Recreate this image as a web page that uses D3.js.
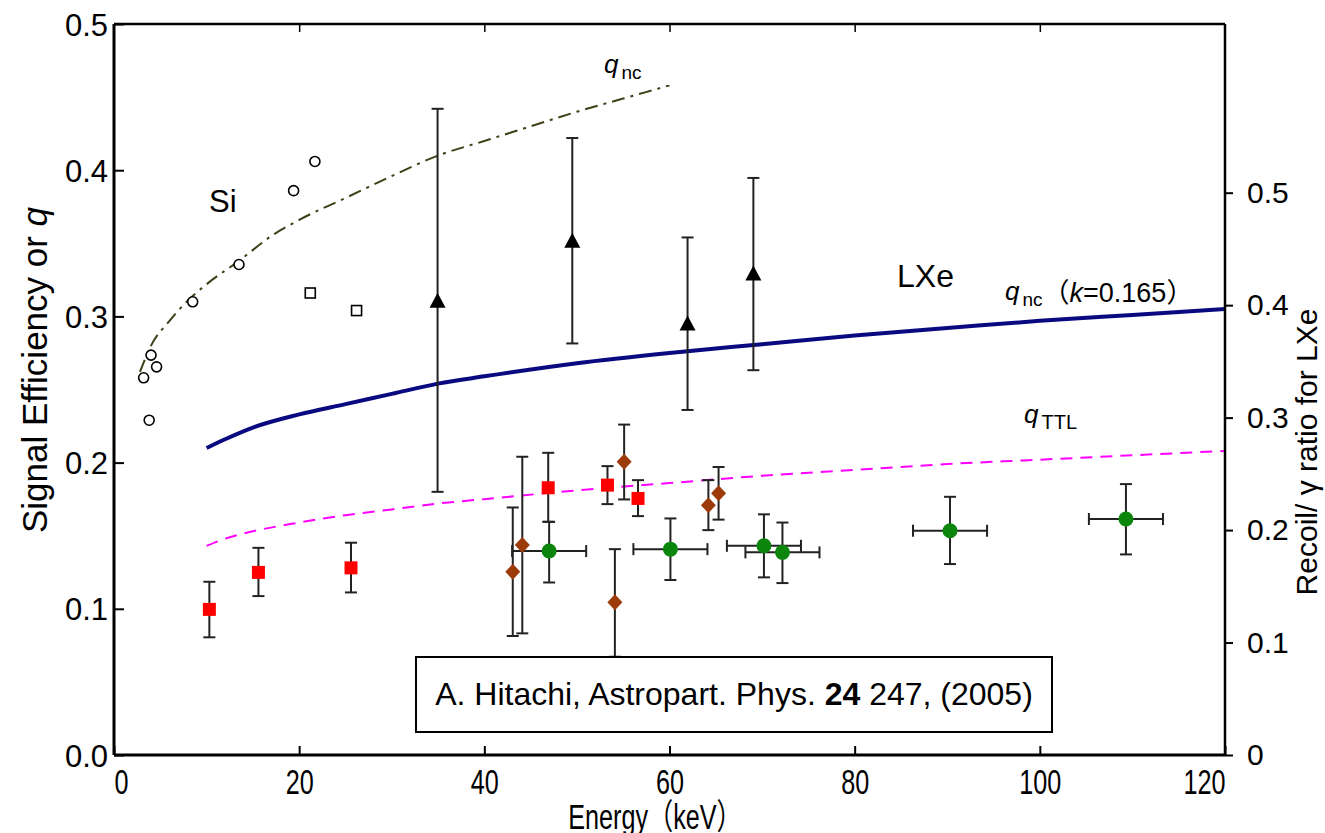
<!DOCTYPE html>
<html><head><meta charset="utf-8">
<script src="https://cdn.jsdelivr.net/npm/d3@7"></script>
<style>
body{margin:0;background:#fff;}
svg{display:block;font-family:"Liberation Sans",Arial,sans-serif;}
</style></head>
<body><svg id="c" width="1325" height="833"></svg>
<script>
// ---------- data ----------
const xTicks = [0,20,40,60,80,100,120];
const yTicks = [0,0.1,0.2,0.3,0.4,0.5];
const y2Ticks = [0,0.1,0.2,0.3,0.4,0.5];

// Si: open circles & squares
const siCircE = [3.2, 4.0, 4.6, 3.8, 8.5, 13.5, 19.4, 21.7];
const siCircQ = [0.258, 0.2735, 0.2655, 0.229, 0.310, 0.3355, 0.386, 0.406];
const siSqE = [21.2, 26.2];
const siSqQ = [0.316, 0.304];

// Si q_nc curve (dash-dot)
const siQncE = [2.8, 4, 6, 8, 10, 13.5, 17, 20, 25, 29, 35, 40, 45, 50, 55, 60];
const siQncQ = [0.262, 0.280, 0.297, 0.311, 0.322, 0.338, 0.355, 0.366, 0.381, 0.393, 0.410, 0.420, 0.430, 0.440, 0.449, 0.458];

// LXe q_nc (k=0.165) and q_TTL curves
const curveE = [10, 12, 15, 20, 25, 30, 35, 40, 50, 60, 70, 80, 90, 100, 110, 120];
const lxeQ = [0.210, 0.216, 0.224, 0.233, 0.240, 0.247, 0.254, 0.259, 0.268, 0.275, 0.281, 0.287, 0.292, 0.297, 0.301, 0.305];
const ttlQ = [0.143, 0.148, 0.153, 0.159, 0.164, 0.168, 0.172, 0.175, 0.181, 0.186, 0.191, 0.195, 0.199, 0.202, 0.205, 0.208];

// black triangles
const triE  = [34.95, 49.5, 61.95, 69.06];
const triQ  = [0.310, 0.351, 0.2945, 0.3287];
const triHi = [0.442, 0.422, 0.354, 0.3947];
const triLo = [0.180, 0.2815, 0.236, 0.2632];

// red squares
const sqE  = [10.3, 15.6, 25.6, 46.9, 53.3, 56.6];
const sqQ  = [0.0996, 0.1249, 0.128, 0.1828, 0.1846, 0.1755];
const sqHi = [0.1185, 0.1417, 0.1452, 0.2067, 0.1976, 0.188];
const sqLo = [0.0805, 0.1087, 0.1112, 0.1595, 0.1716, 0.1634];

// brown diamonds
const dmE  = [43.07, 44.1, 54.1, 55.1, 64.2, 65.3];
const dmQ  = [0.1253, 0.1436, 0.1044, 0.2006, 0.1709, 0.179];
const dmHi = [0.1693, 0.204, 0.1408, 0.226, 0.188, 0.197];
const dmLo = [0.0814, 0.0832, 0.0672, 0.1748, 0.1538, 0.161];

// green circles
const gE   = [47.0, 60.1, 70.2, 72.2, 90.3, 109.3];
const gQ   = [0.1395, 0.1408, 0.1431, 0.1386, 0.1534, 0.1614];
const gHi  = [0.1595, 0.1618, 0.1646, 0.159, 0.1766, 0.1853];
const gLo  = [0.118, 0.1197, 0.1215, 0.1176, 0.1306, 0.1372];
const gXerr = [4, 4, 4, 4, 4, 4];

// ---------- setup ----------
const svg = d3.select("#c");
const X0 = 114, X1 = 1225, Y0 = 755, Y1 = 24;
const x = d3.scaleLinear().domain([0,120]).range([X0,X1]);
const y = d3.scaleLinear().domain([0,0.5]).range([Y0,Y1]);
const y2 = d3.scaleLinear().domain([0,0.65]).range([Y0,Y1]);

const errCol = "#222";
const fontMain = '"Liberation Sans",Arial,sans-serif';
const fontCJK = '"Liberation Sans","Noto Sans CJK JP",sans-serif';

// curves
const line = d3.line().x(d=>x(d[0])).y(d=>y(d[1])).curve(d3.curveMonotoneX);
svg.append("path").datum(siQncE.map((e,i)=>[e,siQncQ[i]]))
  .attr("d",line).attr("fill","none").attr("stroke","#3f3f18").attr("stroke-width",2)
  .attr("stroke-dasharray","13,6,3,6");
svg.append("path").datum(curveE.map((e,i)=>[e,lxeQ[i]]))
  .attr("d",line).attr("fill","none").attr("stroke","#0a0a80").attr("stroke-width",4);
svg.append("path").datum(curveE.map((e,i)=>[e,ttlQ[i]]))
  .attr("d",line).attr("fill","none").attr("stroke","#ff00ff").attr("stroke-width",2)
  .attr("stroke-dasharray","12,8");

// vertical error bars helper
function vErr(E, hi, lo, cap){
  const g = svg.append("g").attr("stroke",errCol).attr("stroke-width",2);
  E.forEach((e,i)=>{
    g.append("line").attr("x1",x(e)).attr("x2",x(e)).attr("y1",y(hi[i])).attr("y2",y(lo[i]));
    [hi[i],lo[i]].forEach(v=>g.append("line").attr("x1",x(e)-cap).attr("x2",x(e)+cap).attr("y1",y(v)).attr("y2",y(v)));
  });
}
vErr(triE, triHi, triLo, 6);
vErr(sqE, sqHi, sqLo, 6);
vErr(dmE, dmHi, dmLo, 6);
vErr(gE, gHi, gLo, 6);
// horizontal error bars for green
{
  const g = svg.append("g").attr("stroke",errCol).attr("stroke-width",2);
  gE.forEach((e,i)=>{
    const a = x(e-gXerr[i]), b = x(e+gXerr[i]), yy = y(gQ[i]);
    g.append("line").attr("x1",a).attr("x2",b).attr("y1",yy).attr("y2",yy);
    [a,b].forEach(v=>g.append("line").attr("x1",v).attr("x2",v).attr("y1",yy-6).attr("y2",yy+6));
  });
}

// markers
svg.append("g").selectAll("circle").data(siCircE).join("circle")
  .attr("cx",(d)=>x(d)).attr("cy",(d,i)=>y(siCircQ[i])).attr("r",5)
  .attr("fill","#fff").attr("stroke","#000").attr("stroke-width",1.6);
svg.append("g").selectAll("rect").data(siSqE).join("rect")
  .attr("x",d=>x(d)-5).attr("y",(d,i)=>y(siSqQ[i])-5).attr("width",10).attr("height",10)
  .attr("fill","#fff").attr("stroke","#000").attr("stroke-width",1.6);
svg.append("g").selectAll("path").data(triE).join("path")
  .attr("d",(d,i)=>{const cx=x(d), cy=y(triQ[i]); return `M${cx},${cy-9}L${cx+8},${cy+6}L${cx-8},${cy+6}Z`;})
  .attr("fill","#000");
svg.append("g").selectAll("rect").data(sqE).join("rect")
  .attr("x",d=>x(d)-6.5).attr("y",(d,i)=>y(sqQ[i])-6.5).attr("width",13).attr("height",13)
  .attr("fill","#ff0000");
svg.append("g").selectAll("path").data(dmE).join("path")
  .attr("d",(d,i)=>{const cx=x(d), cy=y(dmQ[i]); return `M${cx},${cy-8}L${cx+7.5},${cy}L${cx},${cy+8}L${cx-7.5},${cy}Z`;})
  .attr("fill","#9c3a0a");
svg.append("g").selectAll("circle").data(gE).join("circle")
  .attr("cx",d=>x(d)).attr("cy",(d,i)=>y(gQ[i])).attr("r",7.5)
  .attr("fill","#0b850b");

// ---------- axes ----------
// left
const axL = svg.append("g").attr("transform",`translate(${X0},0)`)
  .call(d3.axisLeft(y).tickValues(yTicks).tickSize(-10).tickPadding(6).tickFormat(d=>d.toFixed(1)));
axL.select(".domain").attr("stroke-width",3).attr("d",`M0,${Y1}V${Y0}`);
axL.selectAll(".tick line").attr("stroke-width",2);
axL.selectAll("text").attr("font-size",31).attr("font-family",fontMain).attr("fill","#000").attr("dy","0.36em");
// bottom
const axB = svg.append("g").attr("transform",`translate(0,${Y0})`)
  .call(d3.axisBottom(x).tickValues(xTicks).tickSize(-9).tickPadding(14).tickFormat(d3.format("d")));
axB.select(".domain").attr("stroke-width",3).attr("d",`M${X0},0H${X1}`);
axB.selectAll(".tick line").attr("stroke-width",2);
axB.selectAll("text").attr("font-size",35).attr("font-family",fontMain).attr("fill","#000")
  .attr("transform","scale(0.72,1)")
  .attr("text-anchor",d=>d===0?"start":(d===120?"end":"middle"));
// top
const axT = svg.append("g").attr("transform",`translate(0,${Y1})`)
  .call(d3.axisTop(x).tickValues(xTicks.slice(1,-1)).tickSize(-8).tickFormat(""));
axT.select(".domain").attr("stroke-width",2.5).attr("d",`M${X0},0H${X1}`);
axT.selectAll(".tick line").attr("stroke-width",1.5);
// right
const axR = svg.append("g").attr("transform",`translate(${X1},0)`)
  .call(d3.axisRight(y2).tickValues(y2Ticks).tickSize(8).tickPadding(14).tickFormat(d=>d===0?"0":d.toFixed(1)));
axR.select(".domain").attr("stroke-width",2.5).attr("d",`M0,${Y1}V${Y0}`);
axR.selectAll(".tick line").attr("stroke-width",2);
axR.selectAll("text").attr("font-size",30).attr("font-family",fontMain).attr("fill","#000");

// axis titles
svg.append("text").attr("transform","translate(47,370) rotate(-90)")
  .attr("text-anchor","middle").attr("font-size",35).attr("font-family",fontMain)
  .html('Signal Efficiency or <tspan font-style="italic">q</tspan>');
svg.append("text").attr("transform","translate(1317,452) rotate(-90)")
  .attr("text-anchor","middle").attr("font-size",30).attr("font-family",fontMain)
  .text("Recoil/ γ ratio for LXe");
svg.append("g").attr("transform","translate(655,829)")
  .append("text").attr("transform","scale(0.72,1)").attr("text-anchor","middle")
  .attr("font-size",35).attr("font-family",fontCJK)
  .text("Energy（keV）");

// annotations
svg.append("text").attr("x",209).attr("y",212).attr("font-size",31).attr("font-family",fontMain).text("Si");
svg.append("text").attr("x",897).attr("y",287).attr("font-size",32).attr("font-family",fontMain).text("LXe");
function qLabel(xq, yb, sub, subSize, extra){
  const t = svg.append("text").attr("x",xq).attr("y",yb).attr("font-family",fontMain).attr("font-size",26);
  t.append("tspan").attr("font-style","italic").text("q");
  t.append("tspan").attr("font-size",subSize).attr("dx",3).attr("dy",6).text(sub);
  if(extra) extra(t);
}
qLabel(604, 73, "nc", 19);
qLabel(1005, 300, "nc", 19, t=>{
  t.append("tspan").attr("dy",-4).attr("font-size",27).attr("font-family",fontCJK).text("（");
  t.append("tspan").attr("font-style","italic").attr("font-size",27).text("k");
  t.append("tspan").attr("font-size",27).text("=0.165");
  t.append("tspan").attr("font-size",27).attr("font-family",fontCJK).text("）");
});
qLabel(1024, 423, "TTL", 20);

// reference box
svg.append("rect").attr("x",416).attr("y",657).attr("width",636).attr("height",75)
  .attr("fill","#fff").attr("stroke","#000").attr("stroke-width",2);
svg.append("text").attr("x",734).attr("y",705).attr("text-anchor","middle")
  .attr("font-size",32).attr("font-family",fontMain)
  .html('A. Hitachi, Astropart. Phys. <tspan font-weight="bold">24</tspan> 247, (2005)');
</script></body></html>
